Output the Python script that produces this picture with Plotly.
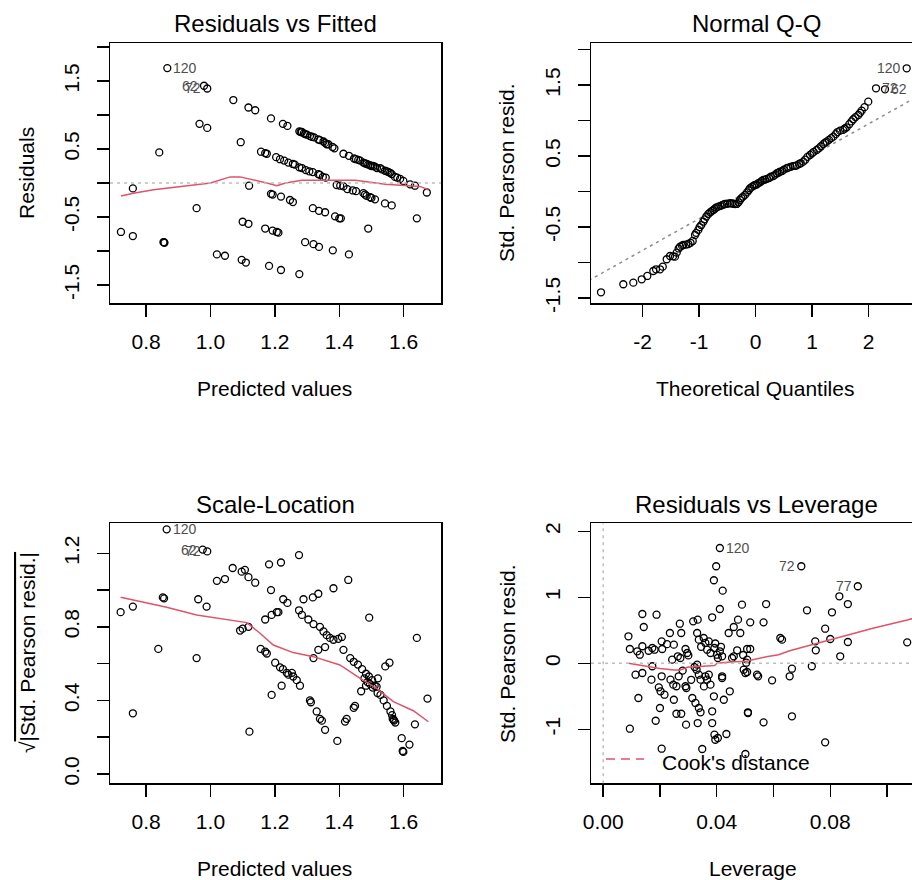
import plotly.graph_objects as go

# ---------------- data ----------------
# Panel 1: Residuals vs Fitted  (predicted value, residual)
rvf_points = [
    (0.866, 1.69), (0.980, 1.43), (0.990, 1.39), (1.071, 1.22), (1.118, 1.11), (1.139, 1.07),
    (1.188, 0.95), (1.225, 0.87), (1.239, 0.84), (0.966, 0.87), (0.990, 0.81), (0.841, 0.45),
    (1.094, 0.60), (0.759, -0.08), (1.120, -0.04), (0.957, -0.37), (0.722, -0.72), (0.759, -0.78),
    (0.854, -0.87), (0.856, -0.87), (0.857, -0.88), (1.020, -1.05), (1.045, -1.07), (1.097, -1.13),
    (1.110, -1.17), (1.182, -1.22), (1.219, -1.28), (1.276, -1.34), (1.100, -0.57), (1.118, -0.60),
    (1.170, -0.67), (1.193, -0.70), (1.206, -0.72), (1.211, -0.73), (1.294, -0.87), (1.320, -0.90),
    (1.337, -0.94), (1.380, -0.99), (1.430, -1.05), (1.188, -0.16), (1.193, -0.17), (1.219, -0.20),
    (1.247, -0.25), (1.256, -0.28), (1.318, -0.37), (1.337, -0.41), (1.356, -0.43), (1.387, -0.49),
    (1.400, -0.52), (1.405, -0.52), (1.490, -0.67), (1.641, -0.52), (1.672, -0.14), (1.635, -0.04),
    (1.157, 0.46), (1.170, 0.44), (1.175, 0.43), (1.204, 0.38), (1.216, 0.35), (1.229, 0.33),
    (1.242, 0.30), (1.256, 0.28), (1.262, 0.27), (1.276, 0.23), (1.284, 0.22), (1.296, 0.19),
    (1.307, 0.17), (1.318, 0.16), (1.335, 0.13), (1.340, 0.12), (1.349, 0.09), (1.358, 0.08),
    (1.392, -0.03), (1.403, -0.04), (1.413, -0.05), (1.425, -0.09), (1.442, -0.11), (1.452, -0.12),
    (1.475, -0.15), (1.480, -0.17), (1.485, -0.19), (1.496, -0.21), (1.500, -0.22), (1.511, -0.24),
    (1.542, -0.30), (1.563, -0.33),
    (1.276, 0.76), (1.280, 0.75), (1.284, 0.75), (1.290, 0.73), (1.294, 0.72), (1.300, 0.71),
    (1.309, 0.69), (1.315, 0.68), (1.322, 0.67), (1.335, 0.64), (1.340, 0.63), (1.351, 0.61),
    (1.356, 0.59), (1.361, 0.57), (1.366, 0.57), (1.379, 0.53), (1.385, 0.51), (1.413, 0.43),
    (1.430, 0.40), (1.446, 0.36), (1.452, 0.35), (1.459, 0.34), (1.465, 0.33), (1.475, 0.30),
    (1.480, 0.29), (1.485, 0.28), (1.490, 0.27), (1.496, 0.26), (1.500, 0.25), (1.505, 0.25),
    (1.511, 0.24), (1.517, 0.22), (1.527, 0.22), (1.532, 0.20), (1.542, 0.18), (1.548, 0.17),
    (1.553, 0.16), (1.558, 0.15), (1.563, 0.13), (1.573, 0.09), (1.580, 0.08), (1.589, 0.06),
    (1.599, 0.03), (1.620, -0.02),
]
rvf_fitted = [p[0] for p in rvf_points]
rvf_resid = [p[1] for p in rvf_points]
rvf_smooth_x = [0.722, 0.761, 0.823, 0.885, 0.968, 1.000, 1.061, 1.092, 1.133, 1.175, 1.206,
                1.233, 1.284, 1.382, 1.450, 1.543, 1.616, 1.650, 1.677]
rvf_smooth_y = [-0.19, -0.15, -0.10, -0.07, -0.02, 0.00, 0.09, 0.09, 0.05, 0.00, -0.04,
                0.00, 0.04, 0.04, 0.04, -0.02, -0.04, -0.05, -0.10]
# label, point, side
rvf_labels = [("120", (0.866, 1.69), "right"), ("62", (0.980, 1.43), "left"),
              ("72", (0.990, 1.39), "left")]

# Panel 2: Normal Q-Q (theoretical quantile, std. Pearson residual)
qq_points = [
    (-2.735, -1.417), (-2.340, -1.304), (-2.163, -1.282), (-2.014, -1.234), (-1.915, -1.187),
    (-1.809, -1.117), (-1.761, -1.093), (-1.690, -1.093), (-1.642, -1.056), (-1.572, -0.952),
    (-1.513, -0.906), (-1.460, -0.910), (-1.425, -0.915), (-1.395, -0.859), (-1.360, -0.800),
    (-1.336, -0.775), (-1.300, -0.760), (-1.278, -0.751), (-1.230, -0.745), (-1.189, -0.737),
    (-1.150, -0.720), (-1.112, -0.694), (-1.071, -0.610), (-1.050, -0.580), (-1.012, -0.539),
    (-0.990, -0.500), (-0.960, -0.470), (-0.924, -0.423), (-0.900, -0.390), (-0.870, -0.350),
    (-0.835, -0.314), (-0.800, -0.290), (-0.770, -0.270), (-0.746, -0.258), (-0.720, -0.240),
    (-0.690, -0.220), (-0.658, -0.211), (-0.620, -0.200), (-0.590, -0.190), (-0.560, -0.180),
    (-0.540, -0.173), (-0.500, -0.170), (-0.451, -0.163), (-0.420, -0.165), (-0.390, -0.170),
    (-0.360, -0.175), (-0.333, -0.173), (-0.300, -0.150), (-0.274, -0.117), (-0.250, -0.090),
    (-0.220, -0.070), (-0.186, -0.046), (-0.150, -0.010), (-0.120, 0.020), (-0.097, 0.048),
    (-0.060, 0.070), (-0.030, 0.085), (-0.009, 0.094), (0.020, 0.100), (0.050, 0.120),
    (0.080, 0.130), (0.110, 0.150), (0.138, 0.165), (0.170, 0.170), (0.200, 0.180),
    (0.240, 0.190), (0.270, 0.210), (0.315, 0.221), (0.350, 0.240), (0.380, 0.260),
    (0.410, 0.270), (0.434, 0.282), (0.470, 0.290), (0.500, 0.310), (0.552, 0.330),
    (0.580, 0.340), (0.620, 0.350), (0.660, 0.360), (0.699, 0.362), (0.730, 0.370),
    (0.770, 0.390), (0.800, 0.400), (0.846, 0.423), (0.880, 0.450), (0.920, 0.490),
    (0.965, 0.517), (1.000, 0.540), (1.030, 0.560), (1.083, 0.587), (1.120, 0.610),
    (1.160, 0.640), (1.200, 0.670), (1.230, 0.690), (1.260, 0.704), (1.300, 0.730),
    (1.340, 0.755), (1.377, 0.775), (1.420, 0.810), (1.450, 0.840), (1.496, 0.859),
    (1.550, 0.870), (1.580, 0.890), (1.614, 0.907), (1.660, 0.950), (1.700, 0.990),
    (1.731, 1.020), (1.770, 1.050), (1.820, 1.080), (1.850, 1.110), (1.880, 1.141),
    (1.930, 1.190), (1.996, 1.268), (2.133, 1.456), (2.292, 1.442), (2.676, 1.738),
]
qq_theoretical = [p[0] for p in qq_points]
qq_sample = [p[1] for p in qq_points]
qq_line_x = [-2.95, 2.80]
qq_line_y = [-1.25, 1.31]
qq_labels = [("120", (2.676, 1.738), "left"), ("72", (2.133, 1.456), "right"),
             ("62", (2.292, 1.442), "right")]

# Panel 3: Scale-Location (predicted value, sqrt|std. Pearson resid.|)
sl_points = [
    (0.864, 1.33), (0.976, 1.22), (0.990, 1.21), (0.721, 0.88), (0.759, 0.91), (0.852, 0.96),
    (0.856, 0.955), (0.838, 0.68), (0.759, 0.33), (0.962, 0.95), (0.988, 0.91), (0.957, 0.63),
    (1.020, 1.05), (1.045, 1.06), (1.069, 1.12), (1.097, 1.10), (1.107, 1.11), (1.118, 1.07),
    (1.139, 1.04), (1.092, 0.78), (1.100, 0.79), (1.118, 0.80), (1.121, 0.23), (1.170, 0.84),
    (1.190, 0.865), (1.206, 0.88), (1.211, 0.88), (1.188, 1.00), (1.226, 0.95), (1.239, 0.93),
    (1.182, 1.14), (1.219, 1.15), (1.275, 1.19), (1.156, 0.68), (1.170, 0.665), (1.175, 0.655),
    (1.201, 0.605), (1.216, 0.58), (1.225, 0.57), (1.237, 0.55), (1.242, 0.54), (1.253, 0.55),
    (1.257, 0.53), (1.268, 0.51), (1.278, 0.48), (1.190, 0.43), (1.221, 0.48), (1.309, 0.40),
    (1.312, 0.39), (1.330, 0.34), (1.340, 0.30), (1.346, 0.29), (1.356, 0.24), (1.394, 0.18),
    (1.289, 0.95), (1.318, 0.96), (1.335, 0.98), (1.382, 1.01), (1.428, 1.055), (1.275, 0.89),
    (1.284, 0.865), (1.304, 0.84), (1.320, 0.815), (1.340, 0.80), (1.351, 0.775), (1.361, 0.755),
    (1.371, 0.74), (1.382, 0.73), (1.397, 0.735), (1.408, 0.745), (1.320, 0.63), (1.335, 0.675),
    (1.356, 0.69), (1.493, 0.85), (1.641, 0.74), (1.674, 0.41), (1.413, 0.675), (1.434, 0.63),
    (1.445, 0.61), (1.458, 0.595), (1.471, 0.57), (1.483, 0.545), (1.492, 0.53), (1.502, 0.51),
    (1.520, 0.52), (1.516, 0.475), (1.483, 0.48), (1.468, 0.45), (1.504, 0.47), (1.519, 0.44),
    (1.488, 0.50), (1.495, 0.49), (1.478, 0.52), (1.510, 0.48), (1.528, 0.43),
    (1.538, 0.40), (1.548, 0.37), (1.559, 0.34), (1.564, 0.32), (1.566, 0.30), (1.569, 0.295),
    (1.570, 0.29), (1.574, 0.28), (1.543, 0.585), (1.556, 0.605), (1.418, 0.285), (1.423, 0.30),
    (1.445, 0.36), (1.449, 0.37), (1.594, 0.195), (1.618, 0.16), (1.597, 0.125), (1.599, 0.12),
    (1.635, 0.27),
]
sl_fitted = [p[0] for p in sl_points]
sl_sqrt_resid = [p[1] for p in sl_points]
sl_smooth_x = [0.721, 0.759, 0.864, 0.957, 1.051, 1.113, 1.154, 1.195, 1.257, 1.320, 1.402,
               1.465, 1.516, 1.568, 1.630, 1.677]
sl_smooth_y = [0.961, 0.946, 0.906, 0.865, 0.841, 0.823, 0.765, 0.701, 0.660, 0.638, 0.593,
               0.520, 0.466, 0.393, 0.344, 0.284]
sl_labels = [("120", (0.864, 1.33), "right"), ("62", (0.976, 1.22), "left"),
             ("72", (0.990, 1.21), "left")]

# Panel 4: Residuals vs Leverage (leverage, std. Pearson residual)
rvl_points = [
    (0.0411, 1.747), (0.0398, 1.470), (0.0390, 1.258), (0.0421, 1.100), (0.0489, 0.888),
    (0.0411, 0.823), (0.0138, 0.747), (0.0188, 0.736), (0.0143, 0.550), (0.0089, 0.409),
    (0.0094, 0.217), (0.0120, 0.182), (0.0129, 0.130), (0.0138, 0.258), (0.0173, 0.232),
    (0.0181, 0.206), (0.0206, 0.333), (0.0208, 0.217), (0.0235, 0.459), (0.0270, 0.600),
    (0.0275, 0.459), (0.0249, 0.282), (0.0243, 0.055), (0.0263, 0.106), (0.0272, 0.080),
    (0.0290, 0.217), (0.0296, 0.156), (0.0317, 0.636), (0.0333, 0.661), (0.0331, 0.459),
    (0.0337, 0.358), (0.0354, 0.383), (0.0360, 0.308), (0.0372, 0.333), (0.0366, 0.206),
    (0.0378, 0.156), (0.0392, 0.232), (0.0401, 0.130), (0.0411, 0.182), (0.0404, 0.080),
    (0.0419, 0.106), (0.0384, 0.697), (0.0442, 0.459), (0.0460, 0.550), (0.0475, 0.661),
    (0.0483, 0.459), (0.0472, 0.197), (0.0507, 0.217), (0.0460, 0.106), (0.0454, 0.080),
    (0.0114, -0.173), (0.0138, -0.147), (0.0170, -0.248), (0.0206, -0.197), (0.0237, -0.248),
    (0.0266, -0.197), (0.0247, -0.324), (0.0258, -0.348), (0.0196, -0.364), (0.0202, -0.424),
    (0.0216, -0.476), (0.0249, -0.552), (0.0258, -0.764), (0.0275, -0.764), (0.0124, -0.526),
    (0.0200, -0.677), (0.0185, -0.870), (0.0094, -0.991), (0.0206, -1.294), (0.0290, -0.348),
    (0.0293, -0.374), (0.0314, -0.526), (0.0325, -0.601), (0.0337, -0.677), (0.0343, -0.742),
    (0.0292, -0.930), (0.0333, -0.905), (0.0329, -0.097), (0.0337, -0.173), (0.0343, -0.248),
    (0.0360, -0.197), (0.0366, -0.248), (0.0372, -0.173), (0.0378, -0.324), (0.0384, -0.727),
    (0.0384, -0.905), (0.0390, -0.500), (0.0392, -1.082), (0.0395, -1.158), (0.0404, -1.132),
    (0.0434, -1.071), (0.0349, -1.298), (0.0419, -0.197), (0.0419, -0.223), (0.0425, -0.552),
    (0.0446, -0.424), (0.0495, -0.097), (0.0501, -0.147), (0.0510, -0.742), (0.0501, -1.374),
    (0.0331, -0.020), (0.0322, -0.056), (0.0173, -0.045), (0.0160, 0.190), (0.0225, 0.290),
    (0.0300, 0.120), (0.0345, 0.250), (0.0395, 0.300), (0.0415, 0.250), (0.0280, -0.110),
    (0.0310, -0.250), (0.0355, -0.350),
    (0.0698, 1.470), (0.0897, 1.167), (0.0832, 1.015), (0.0862, 0.898), (0.0574, 0.898),
    (0.0718, 0.803), (0.0806, 0.773), (0.0518, 0.621), (0.0565, 0.621), (0.0782, 0.524),
    (0.0800, 0.368), (0.0624, 0.383), (0.0630, 0.358), (0.0747, 0.333), (0.0749, 0.197),
    (0.0862, 0.323), (0.1071, 0.318), (0.0835, 0.106), (0.0518, 0.217), (0.0507, 0.055),
    (0.0735, -0.045), (0.0665, -0.082), (0.0657, -0.197), (0.0542, -0.173), (0.0546, -0.197),
    (0.0595, -0.258), (0.0507, -0.132), (0.0510, -0.753), (0.0565, -0.894), (0.0665, -0.803),
    (0.0782, -1.197), (0.0493, 0.126), (0.0504, 0.009),
]
rvl_leverage = [p[0] for p in rvl_points]
rvl_resid = [p[1] for p in rvl_points]
rvl_smooth_x = [0.0089, 0.0141, 0.0200, 0.0250, 0.0272, 0.0296, 0.0340, 0.0393, 0.0401, 0.0446,
                0.0504, 0.0575, 0.0618, 0.0657, 0.0735, 0.0832, 0.0852, 0.0950, 0.1075, 0.1090]
rvl_smooth_y = [0.00, -0.04, -0.08, -0.10, -0.10, -0.06, -0.045, -0.035, 0.00, 0.02,
                0.03, 0.10, 0.13, 0.19, 0.28, 0.39, 0.41, 0.53, 0.66, 0.68]
rvl_labels = [("120", (0.0411, 1.747), "right"), ("72", (0.0698, 1.470), "left"),
              ("77", (0.0897, 1.167), "left")]

# ---------------- styling / layout ----------------
W, H = 912, 880
FONT = "Liberation Sans, Arial, sans-serif"
RED = "#DF536B"
GRAY = "#BEBEBE"


def pxx(p):
    return p / W


def pxy(p):
    return 1 - p / H


marker = dict(symbol="circle-open", size=7, color="black", line=dict(width=1.3, color="black"))

fig = go.Figure()

# panel 1
fig.add_trace(go.Scatter(x=rvf_fitted, y=rvf_resid, mode="markers", marker=marker,
                         xaxis="x", yaxis="y", showlegend=False, hoverinfo="skip"))
fig.add_trace(go.Scatter(x=rvf_smooth_x, y=rvf_smooth_y, mode="lines",
                         line=dict(color=RED, width=1.5), xaxis="x", yaxis="y",
                         showlegend=False, hoverinfo="skip"))
# panel 2
fig.add_trace(go.Scatter(x=qq_line_x, y=qq_line_y, mode="lines",
                         line=dict(color="#8C8C8C", width=1.5, dash="3px,4px"),
                         xaxis="x2", yaxis="y2", showlegend=False, hoverinfo="skip"))
fig.add_trace(go.Scatter(x=qq_theoretical, y=qq_sample, mode="markers", marker=marker,
                         xaxis="x2", yaxis="y2", showlegend=False, hoverinfo="skip"))
# panel 3
fig.add_trace(go.Scatter(x=sl_fitted, y=sl_sqrt_resid, mode="markers", marker=marker,
                         xaxis="x3", yaxis="y3", showlegend=False, hoverinfo="skip"))
fig.add_trace(go.Scatter(x=sl_smooth_x, y=sl_smooth_y, mode="lines",
                         line=dict(color=RED, width=1.5), xaxis="x3", yaxis="y3",
                         showlegend=False, hoverinfo="skip"))
# panel 4
fig.add_trace(go.Scatter(x=rvl_leverage, y=rvl_resid, mode="markers", marker=marker,
                         xaxis="x4", yaxis="y4", showlegend=False, hoverinfo="skip"))
fig.add_trace(go.Scatter(x=rvl_smooth_x, y=rvl_smooth_y, mode="lines",
                         line=dict(color=RED, width=1.5), xaxis="x4", yaxis="y4",
                         showlegend=False, hoverinfo="skip"))

base_axis = dict(showline=True, linecolor="black", linewidth=1.5, ticks="outside",
                 ticklen=12, tickwidth=1.5, tickcolor="black", showgrid=False,
                 zeroline=False, tickfont=dict(family=FONT, size=21, color="black"),
                 fixedrange=True)
x_axis = dict(base_axis, ticklabelstandoff=7)
y_axis = dict(base_axis, ticklabelstandoff=9, tickangle=-90)

top_dom = [pxy(303), pxy(43)]
bot_dom = [pxy(783.3), pxy(523.3)]
left_dom = [pxx(110), pxx(441)]
right_dom = [pxx(591), 1.0]

pred_ticks = [0.8, 1.0, 1.2, 1.4, 1.6]
pred_text = ["0.8", "1.0", "1.2", "1.4", "1.6"]
res_ticks = [-1.5, -1.0, -0.5, 0.0, 0.5, 1.0, 1.5, 2.0]
res_text = ["-1.5", "", "-0.5", "", "0.5", "", "1.5", ""]

fig.update_layout(
    width=W, height=H, margin=dict(l=0, r=0, t=0, b=0, autoexpand=False),
    paper_bgcolor="white", plot_bgcolor="white",
    font=dict(family=FONT, color="black"),
    xaxis=dict(x_axis, domain=left_dom, anchor="y", range=[0.688, 1.716], mirror=True,
               tickvals=pred_ticks, ticktext=pred_text),
    yaxis=dict(y_axis, domain=top_dom, anchor="x", range=[-1.765, 2.059], mirror=True,
               tickvals=res_ticks, ticktext=res_text),
    xaxis2=dict(x_axis, domain=right_dom, anchor="y2", range=[-2.912, 2.770], mirror=True,
                tickvals=[-2, -1, 0, 1, 2], ticktext=["-2", "-1", "0", "1", "2"]),
    yaxis2=dict(y_axis, domain=top_dom, anchor="x2", range=[-1.568, 2.094],
                tickvals=res_ticks, ticktext=res_text),
    xaxis3=dict(x_axis, domain=left_dom, anchor="y3", range=[0.688, 1.716], mirror=True,
                tickvals=pred_ticks, ticktext=pred_text),
    yaxis3=dict(y_axis, domain=bot_dom, anchor="x3", range=[-0.0506, 1.363], mirror=True,
                tickvals=[0, 0.2, 0.4, 0.6, 0.8, 1.0, 1.2],
                ticktext=["0.0", "", "0.4", "", "0.8", "", "1.2"]),
    xaxis4=dict(x_axis, domain=right_dom, anchor="y4", range=[-0.00429, 0.10879], mirror=True,
                tickvals=[0, 0.02, 0.04, 0.06, 0.08, 0.10],
                ticktext=["0.00", "", "0.04", "", "0.08", ""]),
    yaxis4=dict(y_axis, domain=bot_dom, anchor="x4", range=[-1.818, 2.121],
                tickvals=[-1, 0, 1, 2], ticktext=["-1", "0", "1", "2"]),
)

# reference lines (dotted gray)
fig.add_shape(type="line", xref="x domain", yref="y", x0=0, x1=1, y0=0, y1=0,
              line=dict(color=GRAY, width=1.5, dash="3px,4px"))
fig.add_shape(type="line", xref="x4 domain", yref="y4", x0=0, x1=1, y0=0, y1=0,
              line=dict(color=GRAY, width=1.5, dash="3px,4px"))
fig.add_shape(type="line", xref="x4", yref="y4 domain", x0=0, x1=0, y0=0, y1=1,
              line=dict(color=GRAY, width=1.5, dash="3px,4px"))

# Cook's distance legend
fig.add_shape(type="line", xref="paper", yref="paper", x0=pxx(606), x1=pxx(644),
              y0=pxy(759), y1=pxy(759), line=dict(color=RED, width=1.5, dash="9px,6px"))

ann = []


def text_ann(txt, x, y, size=21, angle=0):
    ann.append(dict(text=txt, x=pxx(x), y=pxy(y), xref="paper", yref="paper",
                    xanchor="center", yanchor="middle", showarrow=False, textangle=angle,
                    font=dict(family=FONT, size=size, color="black")))


text_ann("Residuals vs Fitted", 275.5, 24, size=24)
text_ann("Normal Q-Q", 756, 24, size=24)
text_ann("Scale-Location", 275.5, 504, size=24)
text_ann("Residuals vs Leverage", 756, 504, size=24)
text_ann("Predicted values", 274, 388)
text_ann("Theoretical Quantiles", 755, 388)
text_ann("Predicted values", 274, 868)
text_ann("Leverage", 753, 868)
text_ann("Residuals", 27, 173, angle=-90)
text_ann("Std. Pearson resid.", 507, 173, angle=-90)
text_ann("√<span style='text-decoration:overline'>|Std. Pearson resid.|</span>", 27, 653, angle=-90)
text_ann("Std. Pearson resid.", 507, 654, angle=-90)
ann.append(dict(text="Cook's distance", x=pxx(660), y=pxy(762), xref="paper", yref="paper",
                xanchor="left", yanchor="middle", showarrow=False,
                font=dict(family=FONT, size=21, color="black")))

LABEL_FONT = dict(family=FONT, size=14, color="#505050")


def point_label(txt, pt, xr, yr, side):
    ann.append(dict(text=txt, x=pt[0], y=pt[1], xref=xr, yref=yr, showarrow=False,
                    xanchor="left" if side == "right" else "right", yanchor="middle",
                    xshift=4 if side == "right" else -4, font=LABEL_FONT))


for t, pt, side in rvf_labels:
    point_label(t, pt, "x", "y", side)
for t, pt, side in qq_labels:
    point_label(t, pt, "x2", "y2", side)
for t, pt, side in sl_labels:
    point_label(t, pt, "x3", "y3", side)
for t, pt, side in rvl_labels:
    point_label(t, pt, "x4", "y4", side)

fig.update_layout(annotations=ann)
fig.write_html("out.html",
               config={"displayModeBar": False, "staticPlot": True},
               post_script="document.body.style.margin='0px';"
                           "document.body.style.overflow='hidden';")
